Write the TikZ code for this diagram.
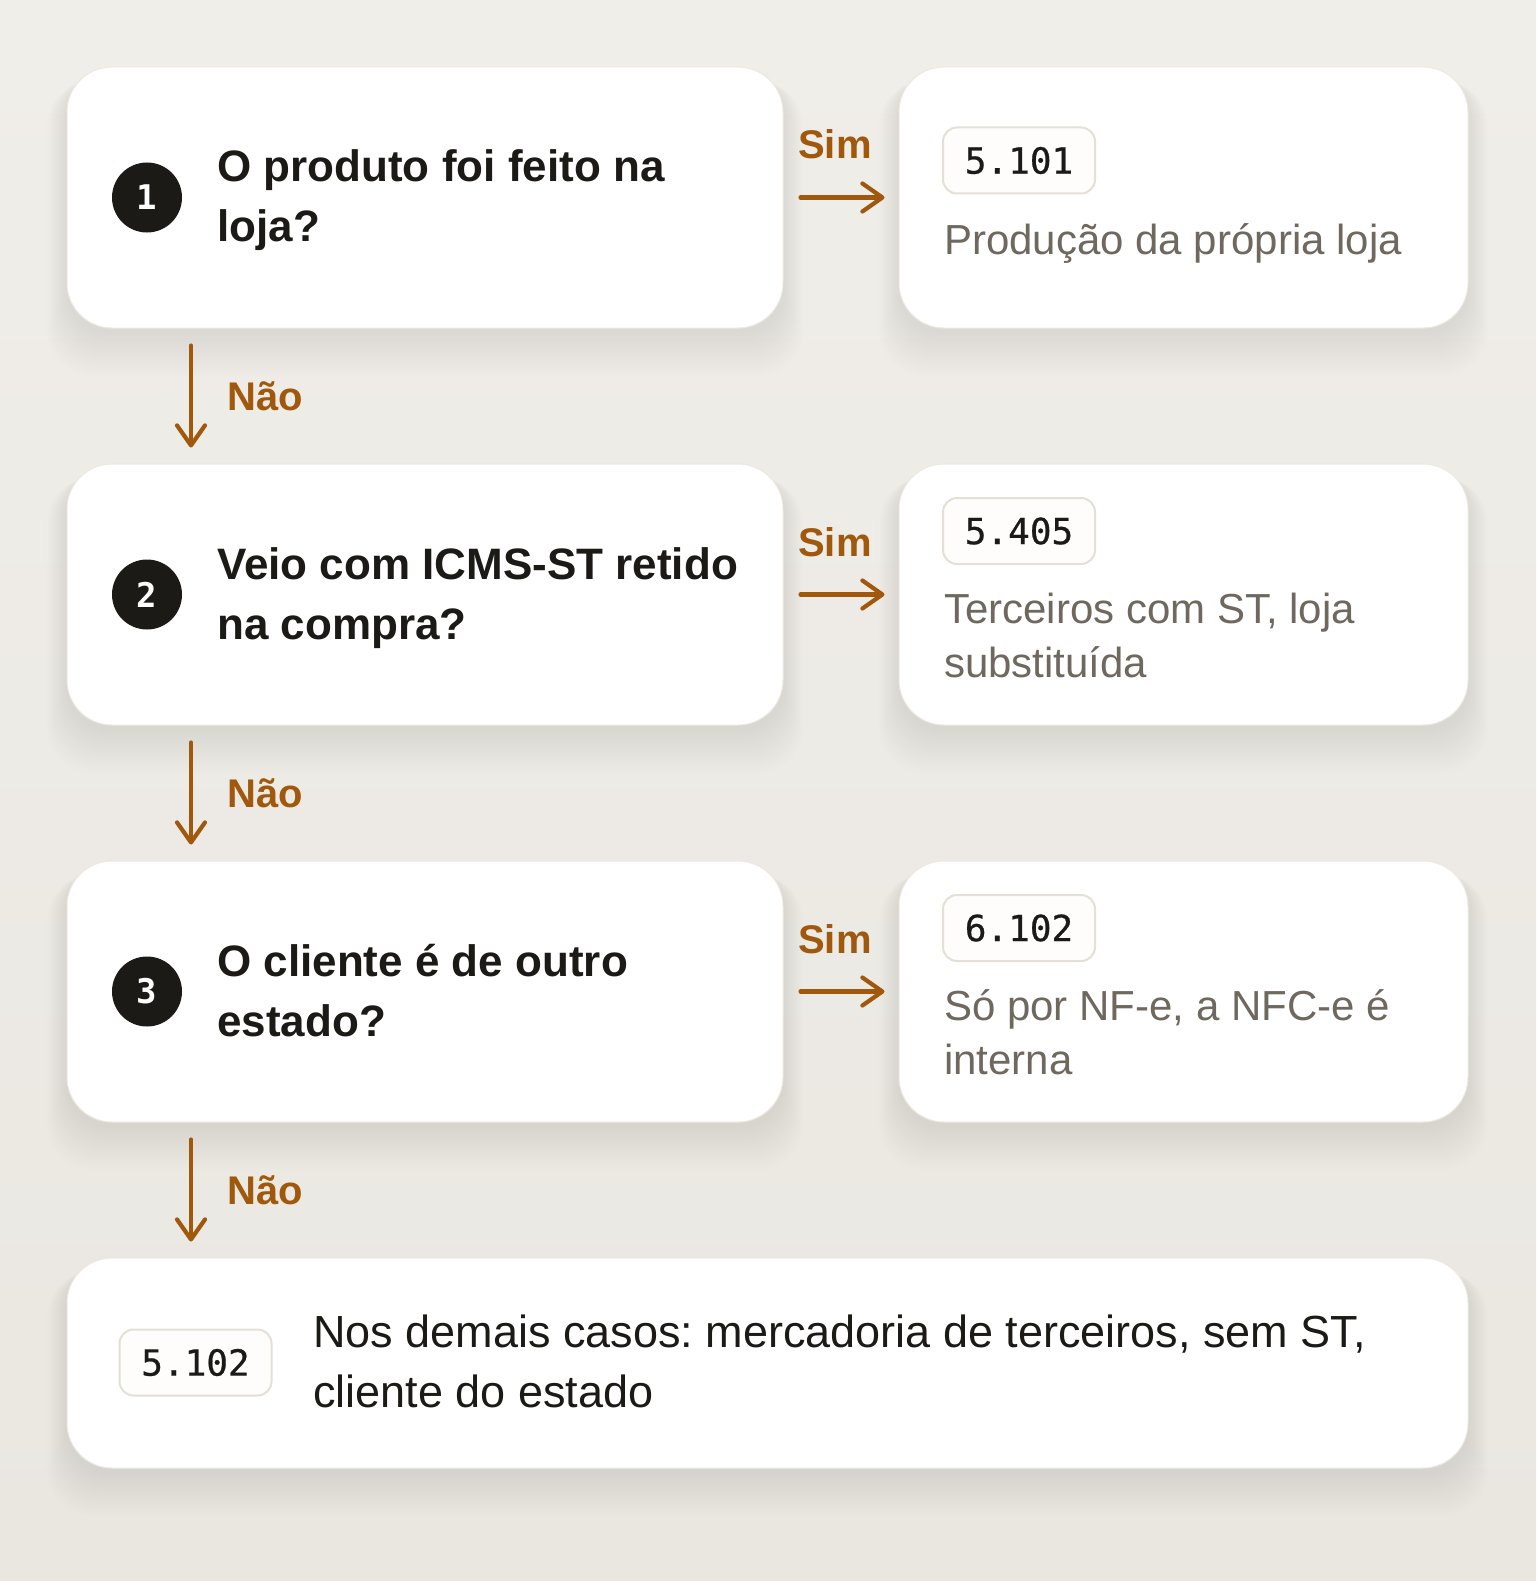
\documentclass[tikz,border=0pt]{standalone}
\usepackage{fontspec}
\setmainfont{Liberation Sans}
\newfontfamily\codefont[FakeBold=0.6]{DejaVu Sans Mono}
\newfontfamily\numfont{DejaVu Sans Mono}
\usetikzlibrary{arrows.meta}
\definecolor{bgtop}{HTML}{F0EEE9}
\definecolor{bgbot}{HTML}{EAE7E1}
\definecolor{accent}{HTML}{A0580C}
\definecolor{ink}{HTML}{1C1A17}
\definecolor{muted}{HTML}{6E685F}
\definecolor{codeborder}{HTML}{E4E0D7}
\definecolor{codefill}{HTML}{FEFDFB}
\definecolor{cardborder}{HTML}{ECE9E2}
\newcommand{\cardshadow}[4]{%
  \foreach \i in {1,...,20}{%
    \fill[black, opacity=0.0035, rounded corners=45pt]
      (#1-\i, #2+6+0.4*\i) rectangle (#3+\i, #4+4+2.2*\i);}}
\tikzset{
  card/.style={draw=cardborder, line width=1pt, fill=white, rounded corners=45pt,
    inner sep=0pt, minimum height=261pt},
  codebox/.style={draw=codeborder, line width=2pt, fill=codefill, rounded corners=14pt,
    minimum width=152pt, minimum height=66pt, inner sep=0pt,
    font=\codefont\fontsize{36}{40}\selectfont, text=ink},
  numdot/.style={circle, fill=ink, minimum size=70pt, inner sep=0pt, text=white,
    font=\numfont\bfseries\fontsize{34}{34}\selectfont},
  question/.style={anchor=base west, inner sep=0pt, text=ink,
    font=\frenchspacing\bfseries\fontsize{44}{60}\selectfont},
  answer/.style={anchor=base west, inner sep=0pt, text=muted,
    font=\frenchspacing\fontsize{42}{54}\selectfont},
  finaltext/.style={anchor=base west, inner sep=0pt, text=ink,
    font=\frenchspacing\fontsize{45}{60}\selectfont},
  branch/.style={anchor=base west, inner sep=0pt, text=accent,
    font=\bfseries\fontsize{40}{40}\selectfont},
  flow/.style={draw=accent, line width=4.2pt, line cap=round,
    -{Straight Barb[length=20pt,width=28pt,round]}}
}
\begin{document}
\begin{tikzpicture}[x=1pt,y=-1pt]
\useasboundingbox (0,0) rectangle (1536,1581);
\shade[top color=bgtop, bottom color=bgbot] (0,0) rectangle (1536,1581);

% shadows
\cardshadow{67}{67}{783}{328}
\cardshadow{899}{67}{1468}{328}
\cardshadow{67}{464}{783}{725}
\cardshadow{899}{464}{1468}{725}
\cardshadow{67}{861}{783}{1122}
\cardshadow{899}{861}{1468}{1122}
\cardshadow{67}{1258}{1468}{1468}

% cards
\node[card, minimum width=716pt] (q1) at (425,197.5) {};
\node[card, minimum width=569pt] (a1) at (1183.5,197.5) {};
\node[card, minimum width=716pt] (q2) at (425,594.5) {};
\node[card, minimum width=569pt] (a2) at (1183.5,594.5) {};
\node[card, minimum width=716pt] (q3) at (425,991.5) {};
\node[card, minimum width=569pt] (a3) at (1183.5,991.5) {};
\node[card, minimum width=1401pt, minimum height=210pt] (fin) at (767.5,1363) {};

% step numbers
\node[numdot] (n1) at (147,197.5) {1};
\node[numdot] (n2) at (147,594.5) {2};
\node[numdot] (n3) at (147,991.5) {3};

% questions
\node[question] (t1) at (217,182) {\parbox[t]{560pt}{O produto foi feito na\\loja?}};
\node[question] (t2) at (217,579) {\parbox[t]{560pt}{Veio com ICMS-ST retido\\na compra?}};
\node[question] (t3) at (217,976) {\parbox[t]{560pt}{O cliente é de outro\\estado?}};

% answers
\node[codebox] (c1) at (1019,160.5) {5.101};
\node[answer] (r1) at (944,254) {\parbox[t]{520pt}{Produção da própria loja}};
\node[codebox] (c2) at (1019,531) {5.405};
\node[answer] (r2) at (944,623) {\parbox[t]{520pt}{Terceiros com ST, loja\\substituída}};
\node[codebox] (c3) at (1019,928) {6.102};
\node[answer] (r3) at (944,1020) {\parbox[t]{520pt}{Só por NF-e, a NFC-e é\\interna}};

% final
\node[codebox] (c4) at (195.5,1362.5) {5.102};
\node[finaltext] (r4) at (313,1347) {\parbox[t]{1140pt}{Nos demais casos: mercadoria de terceiros, sem ST,\\cliente do estado}};

% yes arrows
\draw[flow, shorten <=17pt, shorten >=14pt] (q1.east) -- (a1.west);
\draw[flow, shorten <=17pt, shorten >=14pt] (q2.east) -- (a2.west);
\draw[flow, shorten <=17pt, shorten >=14pt] (q3.east) -- (a3.west);
\node[branch] (s1) at (798,159) {Sim};
\node[branch] (s2) at (798,556) {Sim};
\node[branch] (s3) at (798,953) {Sim};

% no arrows
\coordinate (ax) at (191,0);
\draw[flow, shorten <=17pt, shorten >=16pt] (ax |- q1.south) -- (ax |- q2.north);
\draw[flow, shorten <=17pt, shorten >=16pt] (ax |- q2.south) -- (ax |- q3.north);
\draw[flow, shorten <=17pt, shorten >=16pt] (ax |- q3.south) -- (ax |- fin.north);
\node[branch] (m1) at (227,410) {Não};
\node[branch] (m2) at (227,807) {Não};
\node[branch] (m3) at (227,1204) {Não};
\end{tikzpicture}
\end{document}
